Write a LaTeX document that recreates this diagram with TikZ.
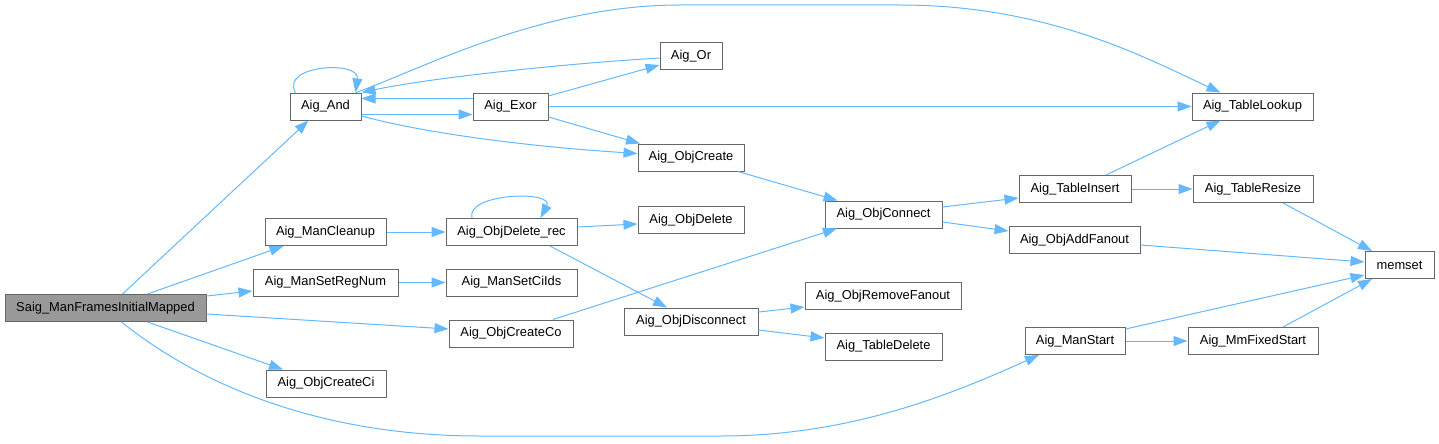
\documentclass[tikz,border=0pt]{standalone}
\usepackage{fontspec}
\setmainfont{Liberation Sans}
\usetikzlibrary{arrows.meta}
\definecolor{edgeblue}{HTML}{63B8FF}
\definecolor{boxgray}{HTML}{666666}
\definecolor{rootfill}{HTML}{999999}
\begin{document}
\begin{tikzpicture}[x=1pt,y=-1pt,
  fn/.style={draw=boxgray,line width=1pt,fill=white,inner sep=0pt,minimum height=27pt,
    font=\fontsize{12.9pt}{14pt}\selectfont,text=black},
  root/.style={fn,fill=rootfill},
  call/.style={draw=edgeblue,line width=1pt,-{Triangle[length=14pt,width=10pt]}}]
\useasboundingbox (0,0) rectangle (1439,444);
% nodes
\node[root,minimum width=201pt] (saig) at (105.5,308) {Saig\_ManFramesInitialMapped};
\node[fn,minimum width=71pt] (and) at (325.5,106.5) {Aig\_And};
\node[fn,minimum width=121pt] (cleanup) at (325.5,232) {Aig\_ManCleanup};
\node[fn,minimum width=145pt] (setreg) at (325.5,282.5) {Aig\_ManSetRegNum};
\node[fn,minimum width=120pt] (createci) at (326,383.5) {Aig\_ObjCreateCi};
\node[fn,minimum width=62pt] (or) at (691,56) {Aig\_Or};
\node[fn,minimum width=75pt] (exor) at (510.5,106.5) {Aig\_Exor};
\node[fn,minimum width=106pt] (objcreate) at (691,157.5) {Aig\_ObjCreate};
\node[fn,minimum width=131pt] (delrec) at (511.5,232) {Aig\_ObjDelete\_rec};
\node[fn,minimum width=106pt] (objdelete) at (691,220) {Aig\_ObjDelete};
\node[fn,minimum width=131pt] (setciids) at (511.5,282.5) {Aig\_ManSetCiIds};
\node[fn,minimum width=124pt] (createco) at (511,333.5) {Aig\_ObjCreateCo};
\node[fn,minimum width=134pt] (disconnect) at (691,321.5) {Aig\_ObjDisconnect};
\node[fn,minimum width=117pt] (connect) at (883.5,214.5) {Aig\_ObjConnect};
\node[fn,minimum width=156pt] (removefanout) at (883,296) {Aig\_ObjRemoveFanout};
\node[fn,minimum width=117pt] (tabledelete) at (883.5,346.5) {Aig\_TableDelete};
\node[fn,minimum width=121pt] (tablelookup) at (1252.5,106.5) {Aig\_TableLookup};
\node[fn,minimum width=112pt] (tableinsert) at (1075,189) {Aig\_TableInsert};
\node[fn,minimum width=131pt] (addfanout) at (1074.5,240) {Aig\_ObjAddFanout};
\node[fn,minimum width=120pt] (tableresize) at (1253,189) {Aig\_TableResize};
\node[fn,minimum width=69pt] (memset) at (1399.5,265) {memset};
\node[fn,minimum width=100pt] (manstart) at (1075,341) {Aig\_ManStart};
\node[fn,minimum width=130pt] (mmfixed) at (1253,341) {Aig\_MmFixedStart};
% edges from root
\draw[call] ([xshift=17pt]saig.north) -- ([xshift=-17pt]and.south);
\draw[call] ([xshift=42pt]saig.north) -- ([xshift=-42pt]cleanup.south);
\draw[call] ([yshift=12pt]saig.east) -- ([yshift=-8.5pt]setreg.west);
\draw[call] ([yshift=-6pt]saig.east) -- ([yshift=4.5pt]createco.west);
\draw[call] ([xshift=42pt]saig.south) -- ([xshift=-43pt]createci.north);
\draw[call] ([xshift=16pt]saig.south) .. controls (200,385) and (320,436) .. (480,436)
  -- (720,436) .. controls (850,436) and (950,395) .. ([xshift=-36pt]manstart.south);
% Aig_And
\draw[call] ([xshift=-30pt]and.north) .. controls (280,65) and (360,60) .. ([xshift=30pt]and.north);
\draw[call] ([yshift=-8pt]and.east) -- ([yshift=-8pt]exor.west);
\draw[call] ([yshift=8pt]exor.west) -- ([yshift=8pt]and.east);
\draw[call] ([yshift=-2pt]or.west) .. controls (560,64) and (430,78) .. (and.north east);
\draw[call] ([xshift=30.5pt]and.north) .. controls (420,70) and (540,5) .. (680,5)
  -- (900,5) .. controls (1050,5) and (1150,60) .. ([xshift=-32pt]tablelookup.north);
\draw[call] ([yshift=-9.5pt]and.east) .. controls (420,132) and (520,146) .. ([yshift=4pt]objcreate.west);
% Aig_Exor
\draw[call] ([yshift=10.5pt]exor.east) -- ([yshift=-9pt]or.west);
\draw[call] (exor.east) -- (tablelookup.west);
\draw[call] ([yshift=-10.5pt]exor.east) -- ([xshift=-51pt]objcreate.north);
\draw[call] ([xshift=47pt]objcreate.south) -- ([xshift=-46pt]connect.north);
% cleanup chain
\draw[call] (cleanup.east) -- (delrec.west);
\draw[call] ([xshift=-39.5pt]delrec.north) .. controls (465,193) and (555,190) .. ([xshift=29pt]delrec.north);
\draw[call] ([yshift=5pt]delrec.east) -- ([yshift=-4pt]objdelete.west);
\draw[call] ([xshift=38.5pt]delrec.south) -- ([xshift=-24pt]disconnect.north);
\draw[call] (setreg.east) -- (setciids.west);
\draw[call] ([xshift=42pt]createco.north) -- ([xshift=-46.5pt]connect.south);
\draw[call] ([yshift=9.5pt]disconnect.east) -- ([yshift=-11pt]removefanout.west);
\draw[call] ([yshift=-8.5pt]disconnect.east) -- ([yshift=8.5pt]tabledelete.west);
% connect
\draw[call] ([yshift=7.5pt]connect.east) -- ([yshift=-9pt]tableinsert.west);
\draw[call] ([yshift=-7.5pt]connect.east) -- ([yshift=9pt]addfanout.west);
\draw[call] ([xshift=31pt]tableinsert.north) -- ([xshift=-32pt]tablelookup.south);
\draw[call] (tableinsert.east) -- (tableresize.west);
\draw[call] ([xshift=30pt]tableresize.south) -- ([xshift=-27.5pt]memset.north);
\draw[call] ([yshift=-5pt]addfanout.east) -- ([yshift=3pt]memset.west);
\draw[call] ([yshift=12pt]manstart.east) -- ([yshift=-10pt]memset.west);
\draw[call] (manstart.east) -- (mmfixed.west);
\draw[call] ([xshift=30pt]mmfixed.north) -- ([xshift=-27.5pt]memset.south);
\end{tikzpicture}
\end{document}
